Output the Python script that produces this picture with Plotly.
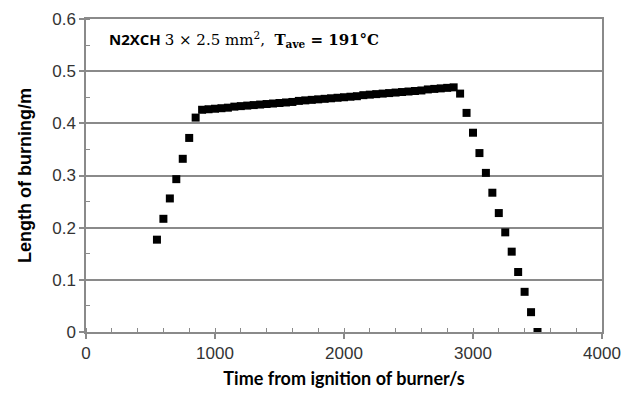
import plotly.graph_objects as go

# Time from ignition of burner (s)
time_s = [550, 600, 650, 700, 750, 800, 850,
          900, 950, 1000, 1050, 1100, 1150, 1200, 1250, 1300, 1350,
          1400, 1450, 1500, 1550, 1600, 1650, 1700, 1750, 1800, 1850,
          1900, 1950, 2000, 2050, 2100, 2150, 2200, 2250, 2300, 2350,
          2400, 2450, 2500, 2550, 2600, 2650, 2700, 2750, 2800, 2850,
          2900, 2950, 3000, 3050, 3100, 3150, 3200, 3250, 3300, 3350,
          3400, 3450, 3500]
# Length of burning (m)
length_m = [0.177, 0.217, 0.256, 0.293, 0.332, 0.372, 0.411,
            0.426, 0.427, 0.428, 0.429, 0.430, 0.432, 0.433, 0.434, 0.435, 0.436,
            0.437, 0.438, 0.439, 0.440, 0.441, 0.443, 0.444, 0.445, 0.446, 0.447,
            0.448, 0.449, 0.450, 0.451, 0.452, 0.454, 0.455, 0.456, 0.457, 0.458,
            0.459, 0.460, 0.461, 0.462, 0.463, 0.465, 0.466, 0.467, 0.468, 0.469,
            0.457, 0.420, 0.382, 0.343, 0.305, 0.267, 0.228, 0.191, 0.154, 0.115,
            0.077, 0.038, 0.000]

x_ticks = [0, 1000, 2000, 3000, 4000]
y_ticks = [0, 0.1, 0.2, 0.3, 0.4, 0.5, 0.6]

GRID = "#8a8a8a"

fig = go.Figure()
fig.add_trace(go.Scatter(
    x=time_s, y=length_m, mode="markers",
    marker=dict(symbol="square", size=8, color="black", line=dict(width=0)),
    showlegend=False, hoverinfo="x+y"))

fig.update_layout(
    width=624, height=394,
    margin=dict(l=86, r=22, t=19, b=62),
    paper_bgcolor="white", plot_bgcolor="white",
    font=dict(family="Liberation Sans, Arial", size=17, color="#333333"),
    xaxis=dict(
        range=[0, 4000], tickvals=x_ticks, ticktext=[str(v) for v in x_ticks],
        showgrid=False, zeroline=False, automargin=False,
        showline=True, linecolor=GRID, linewidth=1.5, mirror=True,
        ticks="outside", ticklen=5, tickcolor=GRID, tickwidth=1.5,
        minor=dict(dtick=200, ticks="inside", ticklen=4, tickcolor=GRID, tickwidth=1),
        tickfont=dict(family="Liberation Sans, Arial", size=17, color="#333333"),
        title=dict(text="<b>Time from ignition of burner/s</b>",
                   font=dict(family="Lato, Open Sans", size=18, color="black"),
                   standoff=10),
    ),
    yaxis=dict(
        range=[0, 0.6], tickvals=y_ticks, ticktext=["0", "0.1", "0.2", "0.3", "0.4", "0.5", "0.6"],
        showgrid=True, gridcolor=GRID, gridwidth=1.5, zeroline=False, automargin=False,
        showline=True, linecolor=GRID, linewidth=1.5, mirror=True,
        ticks="outside", ticklen=5, tickcolor=GRID, tickwidth=1.5,
        minor=dict(dtick=0.05, ticks="inside", ticklen=4, tickcolor=GRID, tickwidth=1),
        tickfont=dict(family="Liberation Sans, Arial", size=17, color="#333333"),
        title=dict(text="<b>Length of burning/m</b>",
                   font=dict(family="Liberation Sans, Arial", size=18, color="black"),
                   standoff=16),
    ),
)

fig.add_annotation(
    xref="paper", yref="paper", x=0.04, y=0.935, xanchor="left", yanchor="middle",
    showarrow=False,
    text=("<b>N2XCH</b> <span style='font-family:DejaVu Serif, Liberation Serif'>3 × 2.5 mm<sup>2</sup>,  "
          "<b>T<sub>ave</sub> = 191°C</b></span>"),
    font=dict(family="Open Sans, Liberation Sans", size=15, color="black"),
)

fig.write_html("out.html")
